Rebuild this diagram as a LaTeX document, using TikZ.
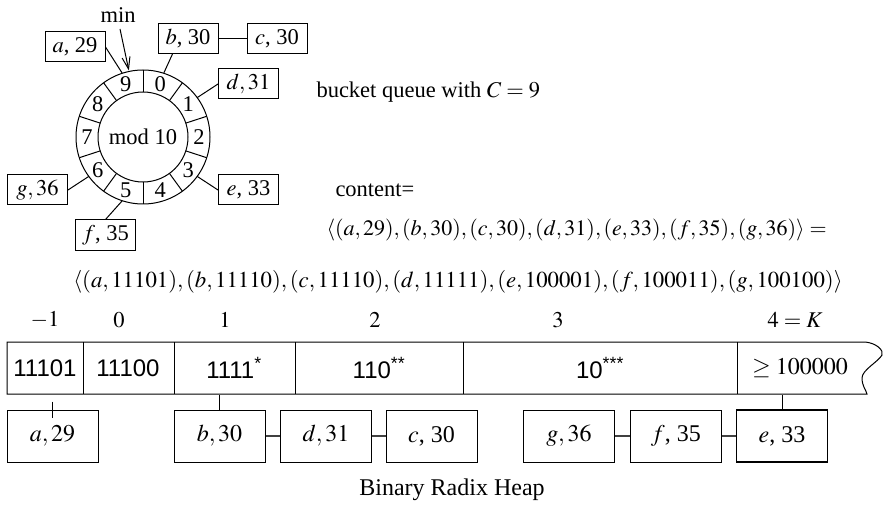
\documentclass[tikz,border=0pt]{standalone}
\usepackage{mathptmx}
\usepackage{fontspec}
\setmainfont{Liberation Serif}
\setsansfont{Liberation Sans}
\usetikzlibrary{arrows.meta}

\newcommand{\bigtxt}{\fontsize{24}{28}\selectfont}

\begin{document}
\fontsize{22.5}{27}\selectfont
\begin{tikzpicture}[
    x=1pt, y=-1pt, line width=1pt,
    topbox/.style={rectangle, draw, minimum width=60pt, minimum height=30pt, inner sep=0pt},
    heapbox/.style={rectangle, draw, minimum width=91pt, minimum height=52pt, inner sep=0pt, font=\bigtxt},
    cell/.style={inner sep=0pt, minimum height=52pt, font=\bigtxt\sffamily},
    txt/.style={inner sep=0pt},
    link/.style={line width=1.4pt, draw=black!75},
    minarrow/.style={-{Straight Barb[length=12pt,width=8pt]}},
]
    \useasboundingbox (0,0) rectangle (887,508);

    % bucket queue ring
    \begin{scope}[shift={(143,137)}]
        \draw (0,0) circle[radius=67];
        \draw (0,0) circle[radius=45];
        \node[txt] (mod) at (0,0) {mod 10};
        \foreach \k in {0,...,9} {
            \draw (36*\k-90:45) -- (36*\k-90:67);
            \node[txt] (s\k) at (36*\k-72:56) {\k};
            \coordinate (o\k) at (36*\k-72:67);
        }
        \coordinate (minpt) at (258:68);
    \end{scope}

    \node[txt] (minlbl) at (118,15) {min};
    \node[topbox] (qa) at (75,47) {$a$, 29};
    \node[topbox] (qb) at (188,38.5) {$b$, 30};
    \node[topbox] (qc) at (277,38.5) {$c$, 30};
    \node[topbox] (qd) at (248.5,84) {$d,31$};
    \node[topbox] (qe) at (248.5,190) {$e$, 33};
    \node[topbox] (qg) at (37.5,190) {$g,36$};
    \node[topbox] (qf) at (105.5,235) {$f$, 35};

    \draw[minarrow] (minlbl.south) ++(2,6) -- (minpt);
    \draw (qa.east) -- (o9);
    \draw (qb.225) -- (o0);
    \draw (qb) -- (qc);
    \draw (qd.west) -- (o1);
    \draw (qe.west) -- (o3);
    \draw (qg.east) -- (o6);
    \draw (qf.north) -- (o5);

    % texts
    \node[txt, anchor=west] (bq) at (316,92) {bucket queue with $C=9$};
    \node[txt, anchor=west] (cnt) at (335,190) {content=};
    \node[txt, anchor=west, font=\fontsize{22}{26}\selectfont] (seq1) at (326,230)
        {$\langle(a,29),(b,30),(c,30),(d,31),(e,33),(f,35),(g,36)\rangle=$};
    \node[txt, font=\fontsize{22.8}{27}\selectfont] (seq2) at (458,282)
        {$\langle(a,11101),(b,11110),(c,11110),(d,11111),(e,100001),(f,100011),(g,100100)\rangle$};

    % radix heap buckets
    \node[txt] (im1) at (45,320) {$-1$};
    \node[txt] (i0) at (119,320) {$0$};
    \node[txt] (i1) at (225,320) {$1$};
    \node[txt] (i2) at (375,320) {$2$};
    \node[txt] (i3) at (558,320) {$3$};
    \node[txt] (i4) at (795,320) {$4=K$};

    \draw (7,342) -- (865,342) .. controls (876,343) and (884,350) .. (882,355)
        .. controls (878,362) and (862,370) .. (862,378)
        .. controls (862,386) and (866,390) .. (867,394) -- (7,394) -- cycle;
    \foreach \xd in {83,174,295,463,737}
        \draw (\xd,342) -- (\xd,394);

    \node[cell] (cm1) at (45,368) {11101};
    \node[cell] (c0) at (128,368) {11100};
    \node[cell] (c1) at (234,368) {1111\textsuperscript{*}};
    \node[cell] (c2) at (379,368) {110\textsuperscript{**}};
    \node[cell] (c3) at (600,368) {10\textsuperscript{***}};
    \node[cell, font=\bigtxt\rmfamily] (c4) at (800,368) {$\geq 100000$};

    \node[heapbox] (ha) at (52.5,436) {$a,29$};
    \node[heapbox] (hb) at (219.5,436) {$b,30$};
    \node[heapbox] (hd) at (326,436) {$d,31$};
    \node[heapbox] (hc) at (431.5,436) {$c$, 30};
    \node[heapbox] (hg) at (569,436) {$g,36$};
    \node[heapbox] (hf) at (676,436) {$f$, 35};
    \node[heapbox, line width=1.8pt] (he) at (782,436) {$e$, 33};

    \draw ([yshift=8pt]ha.north) -- ([yshift=-8pt]ha.north);
    \draw (hb.north) -- (hb.north |- c1.south);
    \draw (he.north) -- (he.north |- c4.south);
    \draw[link] (hb) -- (hd);
    \draw[link] (hd) -- (hc);
    \draw[link] (hg) -- (hf);
    \draw[link] (hf) -- (he);

    \node[txt, font=\bigtxt] (cap) at (452,490) {Binary Radix Heap};
\end{tikzpicture}
\end{document}
